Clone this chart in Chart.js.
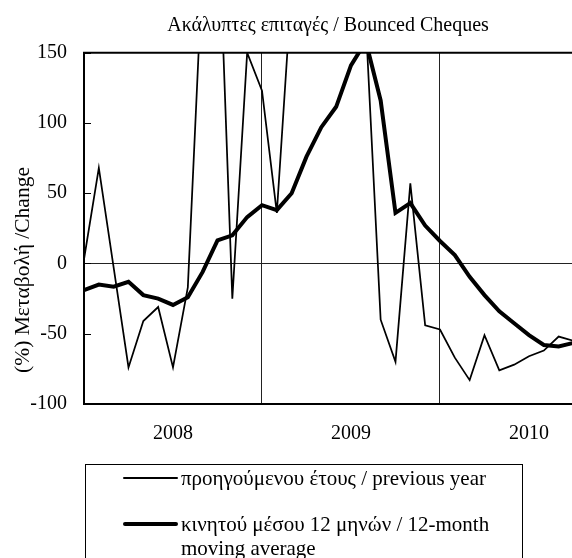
<!DOCTYPE html>
<html>
<head>
<meta charset="utf-8">
<script src="https://cdn.jsdelivr.net/npm/chart.js@4.4.1/dist/chart.umd.min.js"></script>
<style>
    html, body { margin: 0; padding: 0; background: #fff; }
    #wrap { position: relative; width: 572px; height: 558px; overflow: hidden; }
    #legend {
        position: absolute; left: 85px; top: 464px; width: 438px; height: 120px;
        border: 1px solid #000; box-sizing: border-box;
        font-family: 'Liberation Serif', serif; font-size: 21px; color: #000;
    }
    .leg-item { position: absolute; left: 37px; display: flex; align-items: flex-start; }
    .leg-line { display: block; width: 55px; background: #000; border-radius: 2px; }
    .leg-text { display: block; width: 338px; margin-left: 3px; line-height: 24px; }
</style>
</head>
<body>
<div id="wrap">
    <canvas id="chart" width="572" height="558"></canvas>
    <div id="legend"></div>
</div>
<script>
const TITLE = 'Ακάλυπτες επιταγές / Bounced Cheques';
const Y_TITLE = '(%) Μεταβολή /Change';

// monthly, Jan 2008 - Oct 2010
const MONTHS = [
    '2008-01', '2008-02', '2008-03', '2008-04', '2008-05', '2008-06',
    '2008-07', '2008-08', '2008-09', '2008-10', '2008-11', '2008-12',
    '2009-01', '2009-02', '2009-03', '2009-04', '2009-05', '2009-06',
    '2009-07', '2009-08', '2009-09', '2009-10', '2009-11', '2009-12',
    '2010-01', '2010-02', '2010-03', '2010-04', '2010-05', '2010-06',
    '2010-07', '2010-08', '2010-09', '2010-10'
];

// μεταβολή έναντι προηγούμενου έτους (values above 150 run off the chart)
const PREV_YEAR = [
    3, 68, -3, -74, -41, -31, -74, -17, 213, 266, -25, 150,
    123, 36, 197, 260, 280, 300, 260, 171, -40, -70, 57, -44,
    -47, -67, -83, -51, -76, -72, -66, -62, -52, -55
];

// κινητός μέσος 12 μηνών
const MOVING_AVG = [
    -19, -15, -16.5, -13, -22.5, -25, -29.5, -24, -6, 16.5, 20, 33,
    41.5, 38, 50, 76, 97, 111.5, 141, 158, 116, 36, 43, 27,
    16, 6, -9.5, -22.5, -34, -42.5, -51, -58, -59, -56.5
];

const SERIES_LABELS = [
    'προηγούμενου έτους / previous year',
    'κινητού μέσου 12 μηνών / 12-month moving average'
];

const YEAR_LABELS = ['2008', '2009', '2010'];
const YEAR_LABEL_POS = [6, 18, 30];   // month index under each year label
const YEAR_BREAKS = [12, 24];         // January gridlines

const FONT = 'Liberation Serif';

const toPoints = (vals) => vals.map((v, i) => ({ x: i, y: v }));

// marco superior, marcas interiores del eje y, titulo del eje y
const framePlugin = {
    id: 'frame',
    afterDraw(chart) {
        const { ctx, chartArea: a, scales: { y } } = chart;
        ctx.save();
        ctx.strokeStyle = '#000';
        ctx.lineWidth = 2;
        ctx.beginPath();
        ctx.moveTo(a.left - 1, a.top);
        ctx.lineTo(a.right, a.top);
        ctx.stroke();

        ctx.lineWidth = 1;
        y.ticks.forEach(t => {
            const py = Math.round(y.getPixelForValue(t.value)) + 0.5;
            ctx.beginPath();
            ctx.moveTo(a.left, py);
            ctx.lineTo(a.left + 7, py);
            ctx.stroke();
        });

        ctx.translate(23, 270);
        ctx.rotate(-Math.PI / 2);
        ctx.font = `21.5px "${FONT}"`;
        ctx.fillStyle = '#000';
        ctx.textAlign = 'center';
        ctx.textBaseline = 'middle';
        ctx.fillText(Y_TITLE, 0, 0);
        ctx.restore();
    }
};

const chart = new Chart(document.getElementById('chart'), {
    type: 'line',
    data: {
        datasets: [
            {
                label: SERIES_LABELS[0],
                data: toPoints(PREV_YEAR),
                borderColor: '#000',
                borderWidth: 1.75,
                pointRadius: 0,
                tension: 0,
            },
            {
                label: SERIES_LABELS[1],
                data: toPoints(MOVING_AVG),
                borderColor: '#000',
                borderWidth: 4,
                pointRadius: 0,
                tension: 0,
            }
        ]
    },
    options: {
        responsive: false,
        animation: false,
        layout: { padding: 0 },
        plugins: {
            legend: { display: false },
            tooltip: { enabled: false },
            title: {
                display: true,
                text: TITLE,
                fullSize: false,
                color: '#000',
                font: { family: FONT, size: 20, weight: 'normal' },
                padding: { top: 14, bottom: 14.7 }
            }
        },
        scales: {
            x: {
                type: 'linear',
                min: 0,
                max: 32.9,
                afterBuildTicks: (s) => {
                    s.ticks = [...YEAR_LABEL_POS, ...YEAR_BREAKS].sort((a, b) => a - b).map(v => ({ value: v }));
                },
                ticks: {
                    autoSkip: false,
                    maxRotation: 0,
                    padding: 18,
                    color: '#000',
                    font: { family: FONT, size: 20 },
                    callback: (v) => {
                        const k = YEAR_LABEL_POS.indexOf(v);
                        return k >= 0 ? YEAR_LABELS[k] : '';
                    }
                },
                grid: {
                    drawTicks: false,
                    lineWidth: 1,
                    color: (c) => c.tick && YEAR_BREAKS.includes(c.tick.value) ? '#222' : 'rgba(0,0,0,0)'
                },
                border: { color: '#000', width: 2 },
                afterFit: (s) => { s.height = 154; }
            },
            y: {
                min: -100,
                max: 150,
                ticks: {
                    stepSize: 50,
                    padding: 17,
                    color: '#000',
                    font: { family: FONT, size: 20 }
                },
                grid: {
                    drawTicks: false,
                    lineWidth: 1,
                    color: (c) => c.tick && c.tick.value === 0 ? '#222' : 'rgba(0,0,0,0)'
                },
                border: { color: '#000', width: 2 },
                afterFit: (s) => { s.width = 84; }
            }
        }
    },
    plugins: [framePlugin]
});

// leyenda en caja, como en el original
const LEGEND_TOPS = [1, 47];
chart.data.datasets.forEach((ds, i) => {
    const item = document.createElement('div');
    item.className = 'leg-item';
    item.style.top = LEGEND_TOPS[i] + 'px';
    const ln = document.createElement('span');
    ln.className = 'leg-line';
    ln.style.height = ds.borderWidth + 'px';
    ln.style.marginTop = (12 - ds.borderWidth / 2) + 'px';
    const tx = document.createElement('span');
    tx.className = 'leg-text';
    tx.textContent = ds.label;
    item.append(ln, tx);
    document.getElementById('legend').appendChild(item);
});
</script>
</body>
</html>
